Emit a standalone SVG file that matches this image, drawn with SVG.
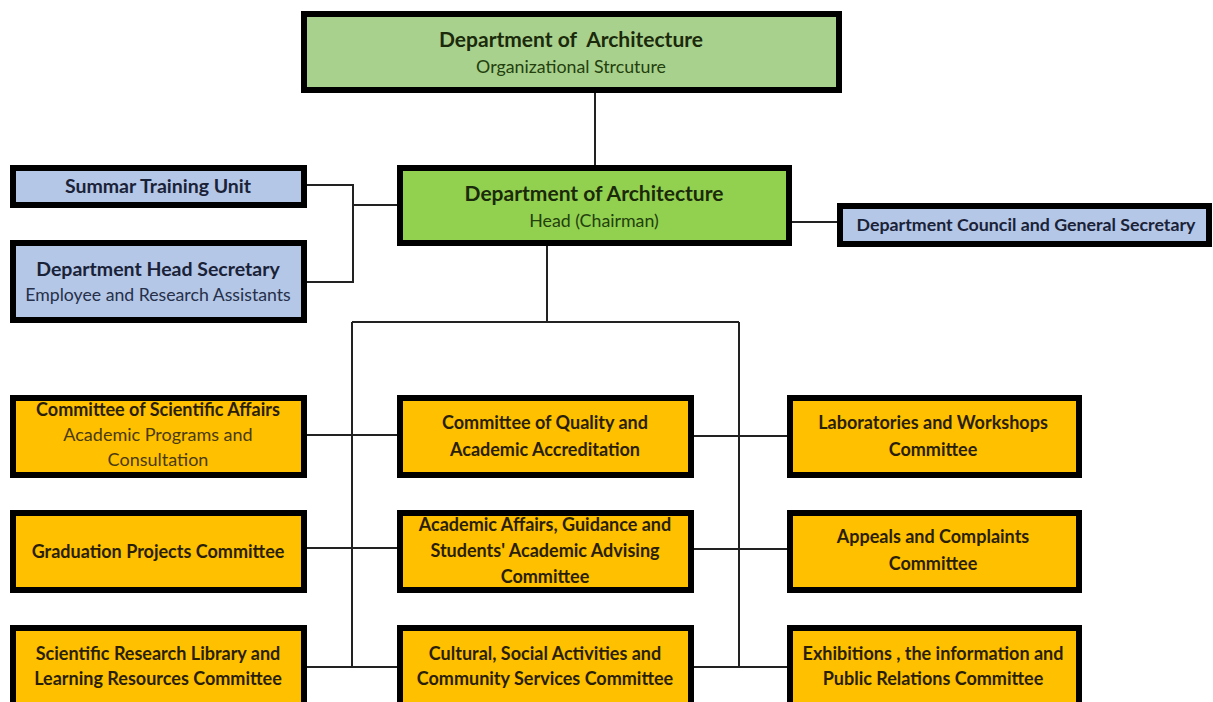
<svg xmlns="http://www.w3.org/2000/svg" width="1213" height="702" viewBox="0 0 1213 702">
<style>
.box{stroke:#000;stroke-width:6}
.g1{fill:#a9d18e}
.g2{fill:#92d050}
.bl{fill:#b4c7e7}
.or{fill:#ffc000}
text{font-family:Lato,"Liberation Sans",sans-serif;text-anchor:middle}
.t{font-weight:bold;font-size:18px;fill:#2a1f05}
.s{font-size:18px;fill:#4a3a10}
.bt{font-weight:bold;font-size:19.5px;fill:#1a2238}
.bs{font-size:17.7px;fill:#26304a}
.ct{font-weight:bold;font-size:17.8px;fill:#1a2238}
.gt{font-weight:bold;font-size:21px;fill:#1a2a0a}
.gs{font-size:17.8px;fill:#23400d}
.c{fill:none;stroke:#222;stroke-width:2}
</style>
<g id="connectors">
<path class="c" d="M595,93 V165"/>
<path class="c" d="M307,185 H353 V282 H307 M353,205 H397"/>
<path class="c" d="M792,222 H837"/>
<path class="c" d="M547,246 V322 M352,322 H739 M352,322 V667 M739,322 V667"/>
<path class="c" d="M307,435 H397 M694,436 H787"/>
<path class="c" d="M307,548 H397 M694,549 H787"/>
<path class="c" d="M307,667 H397 M694,667 H787"/>
</g>
<g id="title">
<rect class="box g1" x="304" y="14" width="535" height="76"/>
<text class="gt" x="571" y="47" style="white-space:pre">Department of  Architecture</text>
<text class="gs" x="571" y="73">Organizational Strcuture</text>
</g>
<g id="head">
<rect class="box g2" x="400" y="168" width="389" height="75"/>
<text class="gt" x="594" y="201">Department of Architecture</text>
<text class="gs" x="594" y="227">Head (Chairman)</text>
</g>
<g id="summer">
<rect class="box bl" x="13" y="168" width="291" height="37"/>
<text class="bt" x="158" y="193">Summar Training Unit</text>
</g>
<g id="secretary">
<rect class="box bl" x="13" y="243" width="291" height="77"/>
<text class="bt" x="158" y="276">Department Head Secretary</text>
<text class="bs" x="158" y="301">Employee and Research Assistants</text>
</g>
<g id="council">
<rect class="box bl" x="840" y="206" width="369" height="38"/>
<text class="ct" x="1026" y="231">Department Council and General Secretary</text>
</g>
<g id="scientific">
<rect class="box or" x="13" y="398" width="291" height="77"/>
<text class="t" x="158" y="416">Committee of Scientific Affairs</text>
<text class="s" x="158" y="441">Academic Programs and</text>
<text class="s" x="158" y="466">Consultation</text>
</g>
<g id="quality">
<rect class="box or" x="400" y="398" width="291" height="77"/>
<text class="t" x="545" y="429">Committee of Quality and</text>
<text class="t" x="545" y="456">Academic Accreditation</text>
</g>
<g id="labs">
<rect class="box or" x="790" y="398" width="289" height="77"/>
<text class="t" x="933" y="429">Laboratories and Workshops</text>
<text class="t" x="933" y="456">Committee</text>
</g>
<g id="graduation">
<rect class="box or" x="13" y="513" width="291" height="77"/>
<text class="t" x="158" y="558">Graduation Projects Committee</text>
</g>
<g id="academic">
<rect class="box or" x="400" y="513" width="291" height="77"/>
<text class="t" x="545" y="531">Academic Affairs, Guidance and</text>
<text class="t" x="545" y="557">Students' Academic Advising</text>
<text class="t" x="545" y="583">Committee</text>
</g>
<g id="appeals">
<rect class="box or" x="790" y="513" width="289" height="77"/>
<text class="t" x="933" y="543">Appeals and Complaints</text>
<text class="t" x="933" y="570">Committee</text>
</g>
<g id="library">
<rect class="box or" x="13" y="628" width="291" height="90"/>
<text class="t" x="158" y="660">Scientific Research Library and</text>
<text class="t" x="158" y="685">Learning Resources Committee</text>
</g>
<g id="cultural">
<rect class="box or" x="400" y="628" width="291" height="90"/>
<text class="t" x="545" y="660">Cultural, Social Activities and</text>
<text class="t" x="545" y="685">Community Services Committee</text>
</g>
<g id="exhibitions">
<rect class="box or" x="790" y="628" width="289" height="90"/>
<text class="t" x="933" y="660">Exhibitions , the information and</text>
<text class="t" x="933" y="685">Public Relations Committee</text>
</g>
</svg>
